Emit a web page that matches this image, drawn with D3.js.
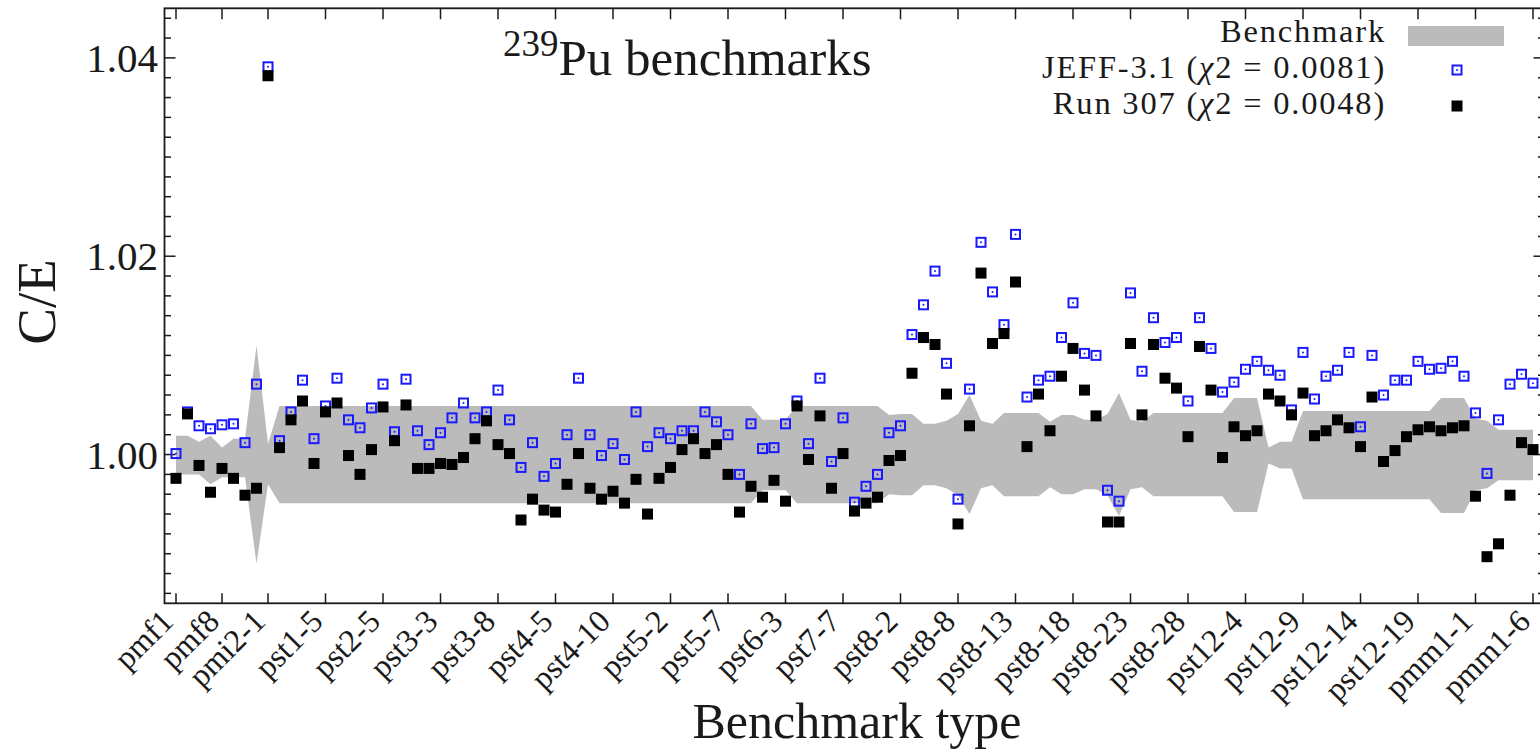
<!DOCTYPE html>
<html><head><meta charset="utf-8">
<script src="https://cdn.jsdelivr.net/npm/d3@7"></script>
<style>html,body{margin:0;padding:0;background:#fff;} svg{display:block;font-family:"Liberation Serif","Times New Roman",serif;}</style>
</head><body>
<svg id="chart" width="1540" height="752"></svg>
<script>
// ---- data ----
const jeff = [1.0001,1.0043,1.0029,1.0026,1.0030,1.0031,1.0012,1.0071,1.0391,1.0014,
1.0043,1.0075,1.0016,1.0049,1.0077,1.0035,1.0027,1.0047,1.0071,1.0023,
1.0076,1.0024,1.0010,1.0022,1.0037,1.0052,1.0037,1.0043,1.0065,1.0035,
0.9987,1.0012,0.9978,0.9991,1.0020,1.0077,1.0020,0.9999,1.0011,0.9995,
1.0043,1.0008,1.0022,1.0016,1.0024,1.0024,1.0043,1.0033,1.0020,0.9980,
1.0031,1.0006,1.0007,1.0031,1.0054,1.0011,1.0077,0.9993,1.0037,0.9952,
0.9968,0.9980,1.0022,1.0029,1.0121,1.0151,1.0185,1.0092,0.9955,1.0066,
1.0214,1.0164,1.0131,1.0222,1.0058,1.0075,1.0079,1.0118,1.0153,1.0102,
1.0100,0.9964,0.9953,1.0163,1.0084,1.0138,1.0113,1.0118,1.0054,1.0138,
1.0107,1.0063,1.0073,1.0086,1.0094,1.0085,1.0080,1.0045,1.0103,1.0056,
1.0079,1.0085,1.0103,1.0028,1.0100,1.0060,1.0075,1.0075,1.0094,1.0086,
1.0087,1.0094,1.0079,1.0042,0.9981,1.0035,1.0071,1.0081,1.0072];

const run307 = [0.9976,1.0041,0.9989,0.9962,0.9986,0.9976,0.9959,0.9966,1.0382,1.0007,
1.0035,1.0054,0.9991,1.0043,1.0052,0.9999,0.9980,1.0005,1.0048,1.0014,
1.0050,0.9986,0.9986,0.9991,0.9990,0.9997,1.0016,1.0034,1.0010,1.0001,
0.9934,0.9955,0.9944,0.9942,0.9970,1.0001,0.9966,0.9955,0.9963,0.9951,
0.9975,0.9940,0.9976,0.9987,1.0005,1.0016,1.0001,1.0010,0.9980,0.9942,
0.9968,0.9957,0.9974,0.9953,1.0049,0.9995,1.0039,0.9966,1.0001,0.9943,
0.9951,0.9957,0.9994,0.9999,1.0082,1.0118,1.0111,1.0061,0.9930,1.0029,
1.0183,1.0112,1.0122,1.0174,1.0008,1.0061,1.0024,1.0079,1.0107,1.0065,
1.0039,0.9932,0.9932,1.0112,1.0040,1.0111,1.0077,1.0067,1.0018,1.0109,
1.0065,0.9997,1.0028,1.0019,1.0024,1.0061,1.0054,1.0040,1.0062,1.0019,
1.0024,1.0035,1.0027,1.0008,1.0058,0.9993,1.0004,1.0018,1.0025,1.0028,
1.0024,1.0027,1.0029,0.9958,0.9897,0.9910,0.9959,1.0012,1.0005];

const bandUpper = [1.0019,1.0019,1.0013,1.0019,1.0007,1.0016,1.0016,1.0110,1.0011,1.0049,
1.0049,1.0049,1.0049,1.0049,1.0049,1.0049,1.0049,1.0049,1.0049,1.0049,
1.0049,1.0049,1.0049,1.0049,1.0049,1.0049,1.0049,1.0049,1.0049,1.0049,
1.0049,1.0049,1.0049,1.0049,1.0049,1.0049,1.0049,1.0049,1.0049,1.0049,
1.0049,1.0049,1.0049,1.0049,1.0049,1.0049,1.0049,1.0049,1.0049,1.0049,
1.0049,1.0035,1.0035,1.0035,1.0049,1.0049,1.0049,1.0049,1.0049,1.0049,
1.0049,1.0049,1.0040,1.0041,1.0041,1.0031,1.0031,1.0034,1.0041,1.0060,
1.0034,1.0031,1.0042,1.0042,1.0042,1.0042,1.0033,1.0040,1.0040,1.0035,
1.0035,1.0041,1.0062,1.0035,1.0033,1.0042,1.0042,1.0042,1.0042,1.0042,
1.0042,1.0042,1.0057,1.0057,1.0057,1.0007,1.0013,1.0013,1.0044,1.0044,
1.0044,1.0044,1.0044,1.0044,1.0044,1.0044,1.0044,1.0044,1.0044,1.0044,
1.0057,1.0057,1.0057,1.0036,1.0034,1.0025,1.0025,1.0025,1.0025];

const bandLower = [0.9980,0.9980,0.9980,0.9970,0.9977,0.9977,0.9977,0.9890,0.9970,0.9951,
0.9951,0.9951,0.9951,0.9951,0.9951,0.9951,0.9951,0.9951,0.9951,0.9951,
0.9951,0.9951,0.9951,0.9951,0.9951,0.9951,0.9951,0.9951,0.9951,0.9951,
0.9951,0.9951,0.9951,0.9951,0.9951,0.9951,0.9951,0.9951,0.9951,0.9951,
0.9951,0.9951,0.9951,0.9951,0.9951,0.9951,0.9951,0.9951,0.9951,0.9951,
0.9951,0.9964,0.9964,0.9964,0.9951,0.9951,0.9951,0.9951,0.9951,0.9951,
0.9951,0.9951,0.9960,0.9959,0.9959,0.9969,0.9969,0.9966,0.9959,0.9940,
0.9966,0.9969,0.9958,0.9958,0.9958,0.9958,0.9967,0.9960,0.9960,0.9965,
0.9965,0.9959,0.9938,0.9965,0.9967,0.9958,0.9958,0.9958,0.9958,0.9958,
0.9958,0.9958,0.9942,0.9942,0.9942,0.9991,0.9986,0.9986,0.9955,0.9955,
0.9955,0.9955,0.9955,0.9955,0.9955,0.9955,0.9955,0.9955,0.9955,0.9955,
0.9941,0.9941,0.9941,0.9964,0.9966,0.9974,0.9974,0.9974,0.9974];

const tickIndex = [0,4,8,13,18,23,28,33,38,43,48,53,58,63,68,73,78,83,88,93,98,103,108,113,118];
const tickLabels = ["pmf1","pmf8","pmi2-1","pst1-5","pst2-5","pst3-3","pst3-8","pst4-5","pst4-10",
"pst5-2","pst5-7","pst6-3","pst7-7","pst8-2","pst8-8","pst8-13","pst8-18","pst8-23","pst8-28",
"pst12-4","pst12-9","pst12-14","pst12-19","pmm1-1","pmm1-6"];
const yMajor = [1.00, 1.02, 1.04];
const yMajorLabels = ["1.00","1.02","1.04"];
const legendLabels = ["Benchmark","JEFF-3.1","Run 307"];
const chi2 = ["0.0081","0.0048"];

// ---- drawing ----
const svg = d3.select("#chart");
svg.append("rect").attr("width",1540).attr("height",752).attr("fill","#fff");
const L = 164.5, R = 1544.5, T = 8.3, B = 603.3;
const x = d3.scaleLinear().domain([-1, 119]).range([L, R]);
const y = d3.scaleLinear().domain([0.985, 1.045]).range([B, T]);
const ink = "#1a1a1a";
const grey = "#bbbbbb";
const blue = "#1a1aff";

// band
const area = d3.area().x((d,i)=>x(i)).y0((d,i)=>y(bandLower[i])).y1((d,i)=>y(bandUpper[i]));
svg.append("path").datum(bandUpper).attr("d", area).attr("fill", grey);

// frame
svg.append("rect").attr("x",L).attr("y",T).attr("width",R-L).attr("height",B-T)
  .attr("fill","none").attr("stroke",ink).attr("stroke-width",1.8);

// y ticks (left & right), major and minor
const yMinor = y.ticks(30);
const gy = svg.append("g").attr("stroke",ink).attr("stroke-width",1.5);
yMinor.forEach(v=>{
  const isMajor = yMajor.some(m=>Math.abs(m-v)<1e-6);
  const len = isMajor ? 11 : 6.5;
  gy.append("line").attr("x1",L).attr("x2",L+len).attr("y1",y(v)).attr("y2",y(v));
  gy.append("line").attr("x1",R).attr("x2",R-len).attr("y1",y(v)).attr("y2",y(v));
});
yMajor.forEach((v,i)=>{
  svg.append("text").attr("x",158).attr("y",y(v)+14).attr("text-anchor","end")
    .attr("font-size",41).attr("fill",ink).text(yMajorLabels[i]);
});

// x ticks (bottom & top)
const gx = svg.append("g").attr("stroke",ink).attr("stroke-width",1.5);
tickIndex.forEach(t=>{
  gx.append("line").attr("x1",x(t)).attr("x2",x(t)).attr("y1",B).attr("y2",B-10);
  gx.append("line").attr("x1",x(t)).attr("x2",x(t)).attr("y1",T).attr("y2",T+11);
});
tickIndex.forEach((t,i)=>{
  svg.append("text").attr("transform",`translate(${x(t)-1},${B+20}) rotate(-45)`)
    .attr("text-anchor","end").attr("font-size",32).attr("fill",ink).text(tickLabels[i]);
});

// markers: JEFF (hollow blue squares with centre dot)
const gj = svg.append("g");
jeff.forEach((v,i)=>{
  gj.append("rect").attr("x",x(i)-4.5).attr("y",y(v)-4.5).attr("width",9).attr("height",9)
    .attr("fill","none").attr("stroke",blue).attr("stroke-width",2);
  gj.append("circle").attr("cx",x(i)).attr("cy",y(v)).attr("r",1).attr("fill",blue);
});
// Run 307 (black filled squares)
const gr = svg.append("g");
run307.forEach((v,i)=>{
  gr.append("rect").attr("x",x(i)-5.5).attr("y",y(v)-5.5).attr("width",11).attr("height",11)
    .attr("fill","#000");
});

// axis labels
svg.append("text").attr("transform","translate(55,302) rotate(-90)").attr("text-anchor","middle")
  .attr("font-size",55).attr("fill",ink).text("C/E");
svg.append("text").attr("x",857).attr("y",738).attr("text-anchor","middle")
  .attr("font-size",50).attr("fill",ink).text("Benchmark type");

// title
const title = svg.append("text").attr("x",503).attr("y",75).attr("font-size",51).attr("fill",ink);
title.append("tspan").attr("font-size",37).attr("dy",-19).text("239");
title.append("tspan").attr("dy",19).text("Pu benchmarks");

// legend
const lx = 1386, lfs = 32.5, lsp = 1.8;
svg.append("text").attr("x",lx).attr("y",42).attr("text-anchor","end").attr("font-size",lfs)
  .attr("letter-spacing",lsp).attr("fill",ink).text(legendLabels[0]);
[0,1].forEach(k=>{
  const t = svg.append("text").attr("x",lx).attr("y",78+36*k).attr("text-anchor","end")
    .attr("font-size",lfs).attr("letter-spacing",lsp).attr("fill",ink);
  t.append("tspan").text(legendLabels[k+1]+" (");
  t.append("tspan").attr("font-style","italic").text("χ");
  t.append("tspan").text("2 = "+chi2[k]+")");
});
svg.append("rect").attr("x",1408).attr("y",26).attr("width",96).attr("height",20).attr("fill",grey);
svg.append("rect").attr("x",1457-4.5).attr("y",70-4.5).attr("width",9).attr("height",9)
  .attr("fill","none").attr("stroke",blue).attr("stroke-width",2);
svg.append("circle").attr("cx",1457).attr("cy",70).attr("r",1).attr("fill",blue);
svg.append("rect").attr("x",1457-5.5).attr("y",106-5.5).attr("width",11).attr("height",11).attr("fill","#000");
</script>
</body></html>
